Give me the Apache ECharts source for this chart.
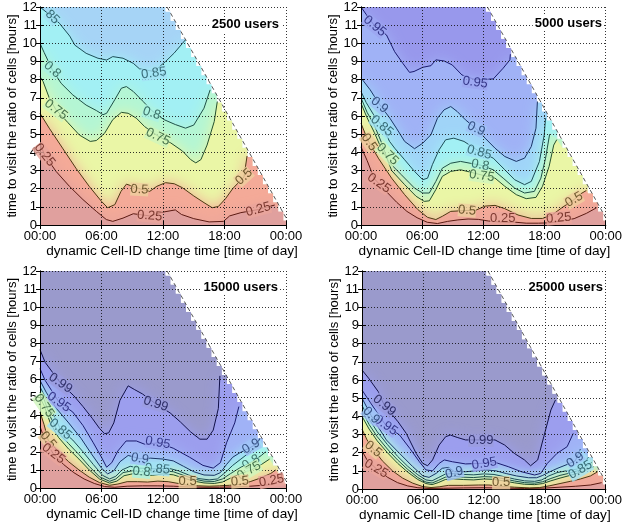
<!DOCTYPE html>
<html>
<head>
    <meta charset="utf-8">
    <script src="https://cdn.jsdelivr.net/npm/echarts@6/dist/echarts.min.js"></script>
</head>
<body style="margin: 0">
<div id="container" style="width: 625px; height: 526px"></div>
<script type="text/javascript">
// x = dynamic Cell-ID change time [h], y = time to visit the ratio of cells [h]
var xTickLabels = ['00:00', '06:00', '12:00', '18:00', '00:00'];
var panelTitles = ['2500 users', '5000 users', '15000 users', '25000 users'];
var DAY = 24, CELL = 0.5;

// ---- 2500 users: contour lines [x, y]
var p1c85 = [[0,12.0],[1.2,11.45],[1.9,11.1],[2.9,10.4],[3.4,9.9],[4.5,9.45],[5.65,9.18],[6.5,9.08],[7.1,9.27],[8.1,9.18],[9.1,8.9],[9.7,8.6],[11.1,8.45],[12.25,9.0],[13.1,9.47],[13.9,10.0],[14.2,10.2]];
var p1c80 = [[0,10.0],[0.4,9.5],[1.2,8.55],[2.06,7.8],[3.2,7.16],[4.5,6.6],[5.5,6.3],[6.15,6.07],[6.5,6.15],[7.3,6.9],[7.94,7.53],[8.43,7.62],[9.1,7.35],[10.06,6.8],[10.9,6.3],[12.1,5.8],[13.2,5.53],[14.2,5.33],[15.0,5.5],[16.0,6.43],[16.6,7.44]];
var p1c75 = [[0,8.17],[0.3,7.9],[0.9,7.0],[1.55,6.35],[2.7,5.65],[3.85,4.95],[4.9,4.6],[5.5,4.65],[6.3,5.05],[7.1,5.8],[7.94,6.2],[8.6,6.15],[9.4,5.88],[10.2,5.42],[11.5,4.9],[12.75,4.52],[13.9,4.07],[14.7,3.6],[15.2,3.42],[15.7,3.6],[16.3,4.4],[17.0,5.7],[17.3,6.8]];
var p1c50 = [[0,6.15],[0.9,5.33],[2.2,4.23],[3.5,3.13],[4.8,2.13],[6.0,1.3],[6.6,0.95],[7.3,1.12],[7.9,1.85],[8.43,2.25],[9.7,2.0],[10.7,1.85],[11.4,2.13],[12.25,2.33],[13.1,2.27],[13.9,2.05],[15.0,1.6],[16.0,1.23],[16.8,0.95],[17.4,1.02],[18.1,1.45],[18.8,2.0],[19.9,2.65],[20.2,3.8]];
var p1c25 = [[0,4.5],[0.45,3.85],[1.57,2.95],[2.87,2.13],[4.19,1.4],[5.5,0.75],[6.47,0.3],[7.1,0.2],[8.1,0.38],[9.1,0.62],[10.7,0.5],[12.1,0.72],[13.2,0.83],[13.8,0.58],[15.0,0.35],[16.5,0.17],[17.9,0.2],[18.5,0.5],[19.6,0.68],[21.3,0.85],[22.9,1.1]];
var p1Labels = [[1.2,11.45,'85',-45],[1.2,8.55,'0.8',-42],[1.55,6.35,'0.75',-38],[0.45,3.85,'0.25',-52],[11.1,8.35,'0.85',8],[10.9,6.15,'0.8',-18],[11.5,4.85,'0.75',-25],[9.7,1.95,'0.5',-3],[19.9,2.65,'0.5',42],[10.7,0.5,'0.25',-5],[21.3,0.85,'0.25',15]];

// ---- 5000 users
var p2c95 = [[0,12.0],[0.5,11.6],[1.35,10.95],[2.5,10.46],[3.3,9.54],[4.1,8.9],[4.76,8.4],[5.2,8.45],[6.05,8.68],[6.86,8.77],[7.34,9.09],[8.15,9.03],[8.95,8.81],[9.9,8.26],[11.2,8.0],[12.97,8.04],[13.94,8.63],[14.6,9.09],[14.65,9.4]];
var p2c90 = [[0,8.1],[0.9,7.44],[1.8,6.65],[2.83,5.88],[3.47,5.33],[4.28,4.6],[5.25,4.2],[6.05,4.5],[6.86,4.97],[7.5,5.88],[8.15,6.34],[8.8,6.52],[9.43,6.25],[10.24,5.79],[11.3,5.3],[12.17,4.78],[13.14,4.23],[14.1,3.77],[15.23,3.5],[16.04,3.68],[16.7,4.32],[17.16,5.33],[17.3,6.8]];
var p2c85 = [[0,7.35],[0.5,6.75],[1.2,6.1],[2.05,5.45],[2.8,4.6],[3.3,4.23],[4.28,3.59],[5.25,2.95],[6.05,2.49],[6.53,2.58],[7.0,3.32],[7.66,4.14],[8.3,4.69],[9.1,4.78],[10.1,4.6],[11.6,4.05],[12.97,3.68],[14.1,3.04],[15.07,2.49],[16.04,2.22],[16.7,2.4],[17.5,3.5],[17.97,4.97],[18.1,5.88]];
var p2c80 = [[0,7.0],[0.6,6.2],[1.3,5.5],[2.0,4.55],[2.67,3.5],[3.95,2.77],[5.25,2.03],[6.05,1.76],[6.7,1.76],[7.34,2.4],[7.98,3.13],[8.8,3.4],[9.76,3.5],[10.7,3.4],[11.7,3.3],[12.97,3.04],[13.94,2.58],[15.07,2.03],[16.04,1.76],[17.0,1.85],[17.64,2.58],[18.1,3.68],[18.5,5.0]];
var p2c75 = [[0,6.7],[0.6,5.9],[1.3,5.1],[2.0,4.2],[2.6,3.6],[3.0,3.0],[4.28,2.22],[5.4,1.58],[6.2,1.3],[6.7,1.33],[7.34,1.95],[7.98,2.68],[8.8,2.95],[9.76,3.04],[10.8,2.9],[11.85,2.75],[13.14,2.58],[14.1,2.13],[15.23,1.67],[16.2,1.45],[17.16,1.52],[17.8,2.13],[18.45,3.23],[18.9,4.4],[19.2,4.7]];
var p2c50 = [[0,5.6],[0.5,4.9],[0.8,4.55],[1.7,3.68],[3.0,2.58],[4.28,1.67],[5.57,0.85],[6.53,0.42],[7.34,0.3],[7.98,0.48],[8.8,0.75],[10.4,0.8],[11.2,0.8],[12.17,1.04],[13.14,1.08],[14.1,0.9],[15.4,0.55],[16.7,0.36],[17.8,0.36],[18.8,0.58],[19.7,0.95],[20.9,1.4],[21.5,1.7],[22.1,1.9]];
var p2c25 = [[0,4.3],[0.6,3.55],[1.3,2.55],[2.3,1.95],[3.5,1.25],[4.5,0.75],[5.5,0.4],[6.5,0.15],[7.5,0.08],[8.5,0.2],[9.5,0.28],[10.5,0.33],[11.5,0.31],[12.5,0.22],[13.9,0.15],[15.2,0.15],[16.2,0.1],[17.4,0.1],[18.5,0.12],[19.4,0.2],[20.9,0.35],[22.1,0.64],[23.1,0.95]];
var p2Labels = [[1.35,10.95,'0.95',-40],[11.2,7.85,'0.95',-8],[1.8,6.6,'0.9',-40],[11.3,5.3,'0.9',-25],[2.05,5.45,'0.85',-40],[11.6,4.0,'0.85',-15],[11.7,3.3,'0.8',-10],[2.6,3.9,'0.75',-45],[11.85,2.7,'0.75',-8],[0.8,4.55,'0.5',-55],[10.4,0.8,'0.5',-5],[20.9,1.4,'0.5',30],[1.75,2.3,'0.25',-35],[13.9,0.36,'0.25',0],[19.4,0.38,'0.25',5]];

// ---- 15000 users
var p3c99 = [[0,7.65],[0.5,6.95],[2.0,5.8],[3.3,5.1],[4.2,4.5],[5.1,3.85],[5.8,3.3],[6.3,3.0],[6.7,3.05],[7.2,3.6],[7.8,4.85],[8.6,5.65],[9.2,5.45],[10.0,5.2],[11.3,4.65],[12.7,4.15],[13.7,3.65],[14.7,3.1],[15.6,2.7],[16.3,2.7],[16.9,3.2],[17.4,4.4],[17.55,6.2]];
var p3c95 = [[0,6.6],[0.5,5.95],[1.85,4.75],[3.2,4.2],[4.2,3.45],[5.2,2.5],[6.0,1.7],[6.5,1.15],[7.0,1.4],[7.6,2.05],[8.4,2.6],[9.4,2.6],[10.3,2.4],[11.5,2.5],[13.0,2.2],[14.6,1.7],[15.9,1.25],[16.9,1.1],[17.6,1.4],[18.2,2.5],[19.0,3.6],[19.4,4.5]];
var p3c90 = [[0,5.95],[0.6,5.3],[1.6,4.4],[2.8,3.6],[4.0,2.75],[5.0,1.9],[6.0,1.1],[6.6,0.78],[7.2,0.95],[7.8,1.45],[8.6,1.8],[9.75,1.62],[10.8,1.65],[12.0,1.6],[13.0,1.5],[14.0,1.2],[15.0,0.9],[16.0,0.72],[17.0,0.7],[17.6,0.85],[18.2,1.3],[18.8,1.7],[19.5,1.95],[20.4,2.2],[21.2,2.45],[21.45,2.75]];
var p3c85 = [[0,5.6],[0.3,5.25],[2.0,3.25],[3.2,2.65],[4.2,2.0],[5.2,1.3],[6.1,0.7],[6.8,0.5],[7.4,0.65],[8.0,1.0],[8.8,1.2],[9.7,1.1],[11.45,1.05],[12.5,1.1],[13.5,0.95],[14.5,0.72],[15.5,0.52],[16.5,0.45],[17.3,0.5],[18.0,0.82],[18.8,1.25],[19.6,1.6],[20.4,1.95],[21.3,2.4]];
var p3c80 = [[0,5.3],[0.4,4.9],[1.0,3.95],[1.8,3.05],[2.8,2.45],[3.8,1.85],[4.8,1.2],[5.8,0.62],[6.8,0.37],[7.4,0.5],[8.1,0.85],[9.0,0.95],[9.9,0.9],[11.0,0.88],[12.0,0.95],[13.0,0.9],[14.0,0.7],[15.0,0.5],[16.0,0.38],[17.0,0.36],[17.8,0.5],[18.6,0.8],[19.6,1.15],[20.6,1.42],[21.6,1.8],[22.0,2.0]];
var p3c75 = [[0,5.0],[0.4,4.55],[1.0,3.6],[1.8,2.8],[2.8,2.15],[3.8,1.6],[4.8,1.0],[5.8,0.5],[6.8,0.27],[7.5,0.38],[8.2,0.68],[9.0,0.78],[10.0,0.73],[11.0,0.7],[12.0,0.78],[13.0,0.73],[14.0,0.55],[15.0,0.38],[16.0,0.28],[17.0,0.25],[17.8,0.33],[18.6,0.55],[19.6,0.8],[20.6,1.0],[21.6,1.3],[22.4,1.6]];
var p3c50 = [[0,4.2],[0.4,3.5],[0.8,2.65],[1.8,2.0],[2.8,1.45],[3.8,1.0],[4.8,0.6],[5.8,0.3],[6.8,0.15],[7.6,0.22],[8.5,0.35],[9.5,0.35],[10.5,0.33],[11.5,0.38],[12.5,0.35],[13.5,0.25],[14.4,0.15],[15.5,0.12],[16.5,0.1],[17.5,0.12],[18.5,0.15],[19.5,0.2],[20.5,0.35],[21.5,0.55],[22.5,0.8],[23.0,1.0]];
var p3c25 = [[0,3.4],[0.5,2.6],[1.3,1.9],[2.3,1.3],[3.3,0.85],[4.3,0.5],[5.3,0.25],[6.3,0.08],[7.3,0.04],[8.5,0.1],[10,0.12],[11.5,0.12],[13,0.1],[14.5,0.06],[16,0.04],[17.5,0.04],[19,0.06],[20.5,0.1],[21.8,0.15],[22.8,0.2],[23.5,0.5],[23.6,0.75]];
var p3Labels = [[2.0,5.8,'0.99',-35],[11.3,4.65,'0.99',-18],[1.85,4.75,'0.95',-35],[11.5,2.5,'0.95',-10],[9.75,1.62,'0.9',-10],[20.6,2.3,'0.9',30],[2.0,3.25,'0.85',-40],[11.45,1.05,'0.85',-5],[9.9,0.9,'0.8',-5],[20.6,1.42,'0.8',30],[20.4,0.95,'0.75',30],[0.4,4.55,'0.75',-55],[0.8,2.65,'0.5',-50],[14.4,0.34,'0.5',0],[19.5,0.36,'0.5',5],[1.3,1.9,'0.25',-38],[22.6,0.4,'0.25',10]];

// ---- 25000 users
var p4c99 = [[0,6.55],[0.65,6.1],[1.6,5.36],[2.2,4.6],[3.55,3.7],[4.36,3.06],[5.33,1.96],[5.98,1.41],[6.46,1.28],[6.95,1.6],[7.6,2.42],[8.24,2.88],[8.7,2.97],[9.37,2.84],[10.2,2.7],[11.7,2.7],[13.1,2.7],[14.05,2.42],[15.0,1.96],[16.0,1.6],[16.6,1.28],[17.3,1.6],[17.9,2.88],[18.6,4.35],[19.05,4.9]];
var p4c95 = [[0,5.45],[0.65,4.9],[1.5,4.2],[2.35,3.5],[3.7,2.97],[4.7,2.24],[5.65,1.5],[6.3,1.05],[6.95,1.0],[7.6,1.41],[8.1,1.6],[8.9,1.5],[10.2,1.38],[12.05,1.42],[13.2,1.45],[14.4,1.23],[15.7,0.95],[17.0,0.77],[17.6,0.86],[18.25,1.41],[19.2,1.96],[20.2,2.33],[20.8,3.06]];
var p4c90 = [[0,5.0],[0.9,4.05],[1.5,3.5],[2.4,2.7],[3.7,1.96],[5.0,1.23],[6.0,0.72],[6.6,0.64],[7.3,0.86],[7.9,1.14],[8.56,1.19],[9.1,0.95],[10.2,0.95],[11.2,1.0],[12.2,1.05],[13.2,1.0],[14.2,0.85],[15.2,0.72],[16.4,0.62],[17.2,0.62],[17.8,0.75],[18.5,0.95],[19.3,1.15],[20.2,1.35],[21.0,1.55],[21.5,2.2]];
var p4c85 = [[0,4.6],[0.7,3.85],[1.5,3.15],[2.5,2.45],[3.5,1.8],[4.5,1.25],[5.5,0.78],[6.3,0.5],[6.9,0.45],[7.5,0.62],[8.2,0.82],[9.0,0.85],[10.0,0.8],[11.0,0.78],[12.0,0.83],[13.0,0.8],[14.0,0.68],[15.0,0.55],[16.0,0.45],[17.0,0.42],[17.7,0.5],[18.4,0.72],[19.2,0.9],[20.1,1.0],[21.2,1.1],[21.8,1.4],[22.3,1.75]];
var p4c80 = [[0,4.3],[0.7,3.55],[1.5,2.88],[2.5,2.2],[3.5,1.6],[4.5,1.08],[5.5,0.63],[6.3,0.38],[6.9,0.33],[7.5,0.47],[8.2,0.65],[9,0.7],[10,0.65],[11,0.63],[12,0.68],[13,0.66],[14,0.56],[15,0.44],[16,0.35],[17,0.32],[17.8,0.4],[18.6,0.58],[19.5,0.75],[20.5,0.88],[21.5,1.05],[22.6,1.45]];
var p4c75 = [[0,4.0],[0.7,3.3],[1.5,2.65],[2.5,2.0],[3.5,1.42],[4.5,0.93],[5.5,0.52],[6.3,0.3],[6.9,0.24],[7.5,0.35],[8.2,0.52],[9,0.56],[10,0.52],[11,0.5],[12,0.55],[13,0.53],[14,0.44],[15,0.34],[16,0.26],[17,0.24],[17.8,0.3],[18.6,0.45],[19.5,0.6],[20.5,0.75],[21.5,0.92],[22.8,1.22]];
var p4c50 = [[0,3.3],[0.5,2.7],[1.1,2.2],[2.0,1.55],[3.0,1.0],[4.0,0.6],[5.0,0.32],[6.0,0.13],[6.8,0.08],[7.6,0.12],[8.5,0.2],[10.0,0.2],[11.5,0.22],[12.5,0.22],[13.7,0.15],[15.0,0.1],[16.5,0.06],[17.5,0.08],[18.5,0.18],[19.5,0.3],[20.5,0.42],[21.5,0.55],[22.5,0.72],[23.2,0.95]];
var p4c25 = [[0,2.1],[0.5,1.6],[1.4,1.12],[2.5,0.65],[3.5,0.35],[4.5,0.17],[5.5,0.07],[6.5,0.03],[8,0.04],[10,0.06],[12,0.07],[14,0.05],[16,0.03],[18,0.05],[19.5,0.1],[21,0.15],[22.5,0.22],[23.6,0.35]];
var p4Labels = [[2.2,4.6,'0.99',-40],[11.7,2.68,'0.99',0],[2.35,3.5,'0.95',-35],[12.05,1.4,'0.95',10],[0.9,4.05,'0.9',-45],[9.1,0.9,'0.9',15],[21.0,1.6,'0.9',35],[21.5,1.05,'0.85',30],[1.1,2.2,'0.5',-40],[13.7,0.34,'0.5',0],[1.4,1.12,'0.25',-30]];

var panels = [
    {levels: [0.25, 0.5, 0.75, 0.8, 0.85], lines: [p1c25, p1c50, p1c75, p1c80, p1c85], labels: p1Labels},
    {levels: [0.25, 0.5, 0.75, 0.8, 0.85, 0.9, 0.95], lines: [p2c25, p2c50, p2c75, p2c80, p2c85, p2c90, p2c95], labels: p2Labels},
    {levels: [0.25, 0.5, 0.75, 0.8, 0.85, 0.9, 0.95, 0.99], lines: [p3c25, p3c50, p3c75, p3c80, p3c85, p3c90, p3c95, p3c99], labels: p3Labels},
    {levels: [0.25, 0.5, 0.75, 0.8, 0.85, 0.9, 0.95, 0.99], lines: [p4c25, p4c50, p4c75, p4c80, p4c85, p4c90, p4c95, p4c99], labels: p4Labels}
];

// colours: band just below a level, region above the top level, contour ink
var fillBelow = {'0.25': '#e0a09e', '0.5': '#f4aa98', '0.75': '#eaf6a6', '0.8': '#b4f6d4', '0.85': '#a2f0f4', '0.9': '#a0d4f8', '0.95': '#a0b2f6', '0.99': '#9c9eee'};
var fillAbove = {'0.85': '#a6d4f6', '0.95': '#9898ec', '0.99': '#9a9acc'};
var ink = {'0.25': '#5c1a12', '0.5': '#4d3a12', '0.75': '#24502e', '0.8': '#1e5048', '0.85': '#1d4d58', '0.9': '#1a3466', '0.95': '#1a1a6e', '0.99': '#111148'};

var grids = [
    {left: 40, top: 7, width: 246, height: 218},
    {left: 361, top: 7, width: 248, height: 218},
    {left: 40, top: 271, width: 246, height: 217},
    {left: 362, top: 271, width: 247, height: 218}
];
var yNameGap = [21, 17, 21, 17];
var xNameGap = [17, 17, 19, 19];
var xNameShift = [18, 2, 18, 2];
var titlePos = [{right: 344, top: 17}, {right: 21, top: 16}, {right: 345, top: 280}, {right: 20, top: 280}];

// data exists only where change time + visit time fits in a day (0.5 h cells)
var stairs = [];
for (var yk = 12; yk >= 0; yk -= CELL) {
    var e = Math.min(DAY, DAY - yk + CELL / 2);
    stairs.push([e, Math.min(12, yk + CELL / 2)]);
    stairs.push([e, Math.max(0, yk - CELL / 2)]);
}
stairs.push([DAY, 0]);

function mix(a, b) {
    var pa = parseInt(a.slice(1), 16), pb = parseInt(b.slice(1), 16);
    var r = (((pa >> 16) & 255) + ((pb >> 16) & 255)) >> 1;
    var g = (((pa >> 8) & 255) + ((pb >> 8) & 255)) >> 1;
    var bl = ((pa & 255) + (pb & 255)) >> 1;
    return 'rgb(' + r + ',' + g + ',' + bl + ')';
}

var font = 'Liberation Sans, Arial, sans-serif';
var dom = document.getElementById("container");
var myChart = echarts.init(dom);
var xAxes = [], yAxes = [], series = [], titles = [];

panels.forEach(function (p, i) {
    var g = 2 * i;
    xAxes.push({
        gridIndex: i, type: 'value', min: 0, max: DAY, interval: 6, z: 3,
        name: 'dynamic Cell-ID change time [time of day]', nameLocation: 'middle', nameGap: xNameGap[i],
        nameTextStyle: {fontSize: 13.6, color: '#000', fontFamily: font, padding: [0, 0, 0, xNameShift[i]]},
        axisLine: {lineStyle: {color: '#000', width: 1}},
        axisTick: {inside: true, length: 4, lineStyle: {color: '#000'}},
        axisLabel: {fontSize: 13, color: '#000', margin: 5, fontFamily: font,
            formatter: function (v) { return xTickLabels[Math.round(v / 6)]; }},
        splitLine: {show: false}
    });
    xAxes.push({
        gridIndex: i, type: 'value', min: 0, max: DAY, interval: 6, position: 'top', z: 3,
        axisLine: {lineStyle: {color: '#000', width: 1}},
        axisTick: {inside: true, length: 4, lineStyle: {color: '#000'}},
        axisLabel: {show: false},
        splitLine: {show: true, lineStyle: {color: '#111', type: [1, 2], width: 1, opacity: 0.85}}
    });
    yAxes.push({
        gridIndex: i, type: 'value', min: 0, max: 12, interval: 1, z: 3,
        name: 'time to visit the ratio of cells [hours]', nameLocation: 'middle', nameGap: yNameGap[i],
        nameTextStyle: {fontSize: 13, color: '#000', fontFamily: font},
        axisLine: {lineStyle: {color: '#000', width: 1}},
        axisTick: {inside: true, length: 4, lineStyle: {color: '#000'}},
        axisLabel: {fontSize: 13, color: '#000', margin: 3, fontFamily: font},
        splitLine: {show: false}
    });
    yAxes.push({
        gridIndex: i, type: 'value', min: 0, max: 12, interval: 1, position: 'right', z: 3,
        axisLine: {lineStyle: {color: '#000', width: 1}},
        axisTick: {inside: true, length: 4, lineStyle: {color: '#000'}},
        axisLabel: {show: false},
        splitLine: {show: true, lineStyle: {color: '#111', type: [1, 2], width: 1, opacity: 0.85}}
    });

    var topKey = String(p.levels[p.levels.length - 1]);
    // region above the highest contour
    series.push({
        type: 'line', xAxisIndex: g, yAxisIndex: g, data: [[0, 12]].concat(stairs),
        symbol: 'none', silent: true, z: 1, lineStyle: {width: 0},
        areaStyle: {color: fillAbove[topKey], opacity: 1}
    });
    // bands, highest level first so lower ones paint over; a soft shadow blends the edges
    for (var k = p.levels.length - 1; k >= 0; k--) {
        var line = p.lines[k];
        var last = line[line.length - 1];
        var tail = stairs.filter(function (s) { return s[1] < last[1]; });
        var c = fillBelow[String(p.levels[k])];
        series.push({
            type: 'line', xAxisIndex: g, yAxisIndex: g, data: line.concat(tail),
            symbol: 'none', silent: true, z: 1, lineStyle: {width: 0},
            areaStyle: {color: c, opacity: 1, shadowBlur: 14, shadowColor: c}
        });
    }
    // white outside the data region (hides blur spilling past the staircase)
    series.push({
        type: 'line', xAxisIndex: g, yAxisIndex: g, data: stairs,
        symbol: 'none', silent: true, z: 1, lineStyle: {width: 0},
        areaStyle: {color: '#fff', opacity: 1, origin: 'end'}
    });
    // contour strokes
    p.levels.forEach(function (lv, k) {
        series.push({
            type: 'line', xAxisIndex: g, yAxisIndex: g, data: p.lines[k],
            symbol: 'none', silent: true, z: 2,
            lineStyle: {color: ink[String(lv)], width: 1}
        });
    });
    // dashed boundary of the data region
    series.push({
        type: 'line', xAxisIndex: g, yAxisIndex: g,
        data: [[DAY / 2 + 0.4, 12], [DAY, 0.4]],
        symbol: 'none', silent: true, z: 2,
        lineStyle: {color: '#555', width: 1, type: [4, 3]}
    });
    // contour labels
    series.push({
        type: 'scatter', xAxisIndex: g, yAxisIndex: g, symbolSize: 1, silent: true, z: 4,
        itemStyle: {color: 'rgba(0,0,0,0)'},
        data: p.labels.map(function (l) {
            var lv = l[2].indexOf('.') < 0 ? Number('0.' + l[2]) : Number(l[2]);
            var idx = p.levels.indexOf(lv);
            var above = idx < p.levels.length - 1 ? fillBelow[String(p.levels[idx + 1])] : fillAbove[topKey];
            return {
                value: [l[0], l[1]],
                label: {
                    show: true, position: 'inside', formatter: l[2], rotate: l[3],
                    fontSize: 13, fontFamily: font, color: ink[String(lv)],
                    backgroundColor: mix(fillBelow[String(lv)], above), padding: [0, 0]
                }
            };
        })
    });

    titles.push({
        text: panelTitles[i], right: titlePos[i].right, top: titlePos[i].top,
        padding: [1, 2], backgroundColor: '#fff',
        textStyle: {fontSize: 13, fontWeight: 'bold', color: '#000', fontFamily: font}
    });
});

var option = {
    animation: false,
    backgroundColor: '#fff',
    textStyle: {fontFamily: font},
    title: titles,
    grid: grids,
    xAxis: xAxes,
    yAxis: yAxes,
    series: series
};
if (option && typeof option === "object") {
    myChart.setOption(option, true);
}
</script>
</body>
</html>
